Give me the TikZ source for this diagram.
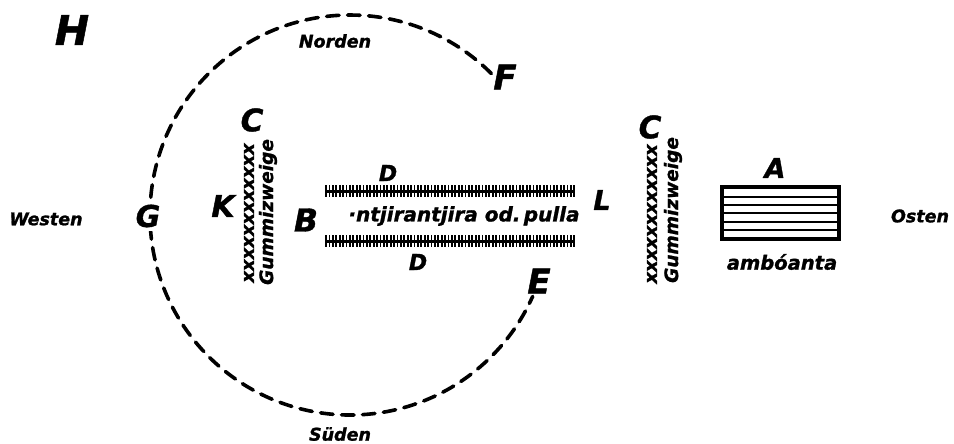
\documentclass[tikz,border=0pt]{standalone}
\usepackage{fontspec}
\setmainfont{DejaVu Sans}
\begin{document}
\begin{tikzpicture}[x=1pt,y=-1pt,
  lab/.style={font=\bfseries\itshape\fontsize{#1}{#1}\selectfont\addfontfeature{FakeBold=1.2}, inner sep=0pt, anchor=center},
  circ/.style={line width=3.6pt, line cap=round, dash pattern=on 12.5pt off 8.5pt},
  barline/.style={line width=3pt},
  tick/.style={line width=1.8pt},
  boxline/.style={line width=3.2pt},
  stripe/.style={line width=2pt}]
\useasboundingbox (0,0) rectangle (954,444);
\fill[white] (0,0) rectangle (954,444);

% dashed circle arc (from F round to E)
\coordinate (Fend) at (491.4,73.6);
\draw[circ] (Fend) arc[start angle=45, end angle=336, radius=200pt] coordinate (Eend);

% labels
\node[lab=41] (H) at (72,30) {H};
\node[lab=17.5] (norden) at (335,41) {Norden};
\node[lab=34] (F) at (505,77) {F};
\node[lab=30, fill=white, inner ysep=4pt, inner xsep=2pt] (G) at (148,216) {G};
\node[lab=17.5] (westen) at (46,219) {Westen};
\node[lab=30] (K) at (223,206) {K};
\node[lab=31] (C1) at (252,120) {C};
\node[lab=18, rotate=90] (x1) at (249,213) {xxxxxxxxxxxx};
\node[lab=18.5, rotate=90] (g1) at (268,212) {Gummizweige};
\node[lab=31.5] (B) at (306,220) {B};
\node[lab=34] (E) at (539,281) {E};
\node[lab=27] (L) at (602,200) {L};
\node[lab=31] (C2) at (650,127) {C};
\node[lab=18, rotate=90] (x2) at (652,214) {xxxxxxxxxxxx};
\node[lab=18.5, rotate=90] (g2) at (673,210) {Gummizweige};
\node[lab=27] (A) at (775,168) {A};
\node[lab=19.5] (amb) at (782,262) {ambóanta};
\node[lab=17.5] (osten) at (920,216) {Osten};
\node[lab=17.5] (sueden) at (340,434) {Süden};

% D bars
\draw[barline] (325,191) -- (575,191);
\draw[barline] (325,241) -- (575,241);
\foreach \i in {0,...,73} {
  \draw[tick] (326+\i*3.4,185) -- (326+\i*3.4,197);
  \draw[tick] (326+\i*3.4,235) -- (326+\i*3.4,247);
}
\node[lab=22] (D1) at (388,173) {D};
\node[lab=22] (D2) at (418,262) {D};
\node[lab=20] (pulla) at (464,216) {·ntjirantjira od.\,pulla};

% amboanta box
\draw[boxline] (722,187) rectangle (839,239);
\foreach \yy in {197,205,213,222,230} {
  \draw[stripe] (723,\yy) -- (838,\yy);
}
\end{tikzpicture}
\end{document}
